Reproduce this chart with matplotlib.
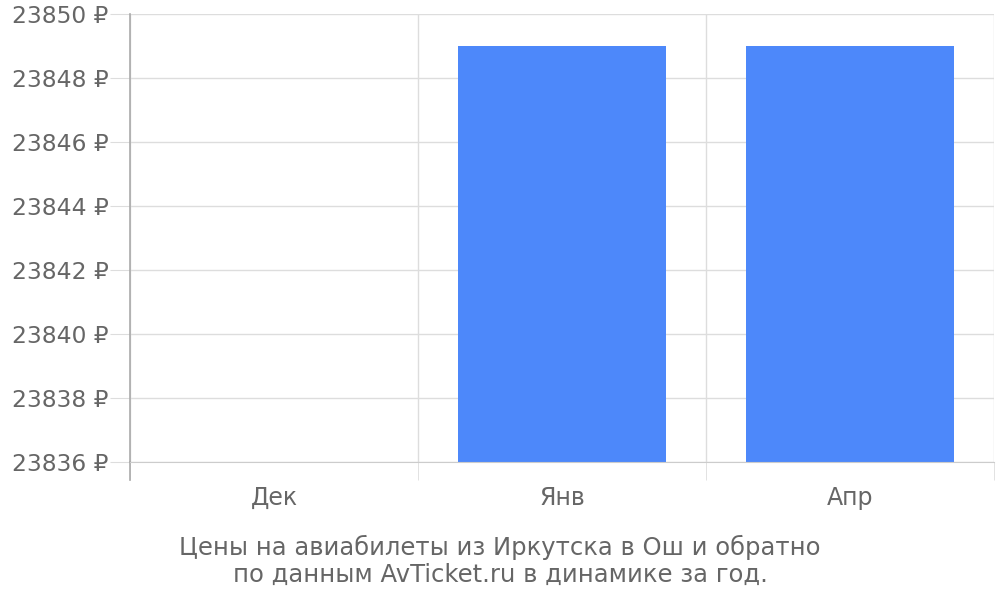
import matplotlib
matplotlib.use("Agg")
import matplotlib.pyplot as plt
import numpy as np

# Данные
months = ["Дек", "Янв", "Апр"]
prices = [np.nan, 23849, 23849]
y_ticks = [23836, 23838, 23840, 23842, 23844, 23846, 23848, 23850]
caption = "Цены на авиабилеты из Иркутска в Ош и обратно\nпо данным AvTicket.ru в динамике за год."


def main():
    text_color = "#666666"
    grid_color = "#dddddd"

    fig = plt.figure(figsize=(10, 6), dpi=100)
    ax = fig.add_axes([0.13, 0.23, 0.864, 0.7467])

    x = np.arange(len(months))
    ax.bar(x, prices, width=0.72, color="#4d88fa", zorder=2)

    ax.set_xlim(-0.5, len(months) - 0.5)
    ax.set_ylim(y_ticks[0], y_ticks[-1])

    ax.set_yticks(y_ticks)
    ax.set_yticklabels([f"{v} ₽" for v in y_ticks])
    ax.set_xticks(x)
    ax.set_xticklabels(months)
    ax.set_xticks(np.arange(len(months) + 1) - 0.5, minor=True)

    ax.grid(axis="y", color=grid_color, linewidth=1, zorder=0)
    ax.grid(axis="x", which="minor", color=grid_color, linewidth=1, zorder=0)

    # tick lengths are in points (1 pt = 1.39 px at 100 dpi)
    ax.tick_params(axis="y", length=14.4, color=grid_color, labelsize=16.8,
                   labelcolor=text_color, pad=1)
    ax.tick_params(axis="x", which="major", length=0, labelsize=17,
                   labelcolor=text_color, pad=17)
    ax.tick_params(axis="x", which="minor", length=13, color=grid_color)

    for side in ["top", "right"]:
        ax.spines[side].set_visible(False)
    ax.spines["bottom"].set_color("#cccccc")
    ax.spines["left"].set_color("#aaaaaa")
    ax.spines["left"].set_linewidth(1.2)

    # left axis line continues below the plot
    ax.plot([0, 0], [0, -18 / 448], transform=ax.transAxes, color="#aaaaaa",
            linewidth=1.2, clip_on=False)

    fig.text(0.5, 0.065, caption, ha="center", va="center", fontsize=17.5,
             color=text_color, linespacing=1.15)

    fig.savefig("out.png", dpi=100)


if __name__ == "__main__":
    main()
